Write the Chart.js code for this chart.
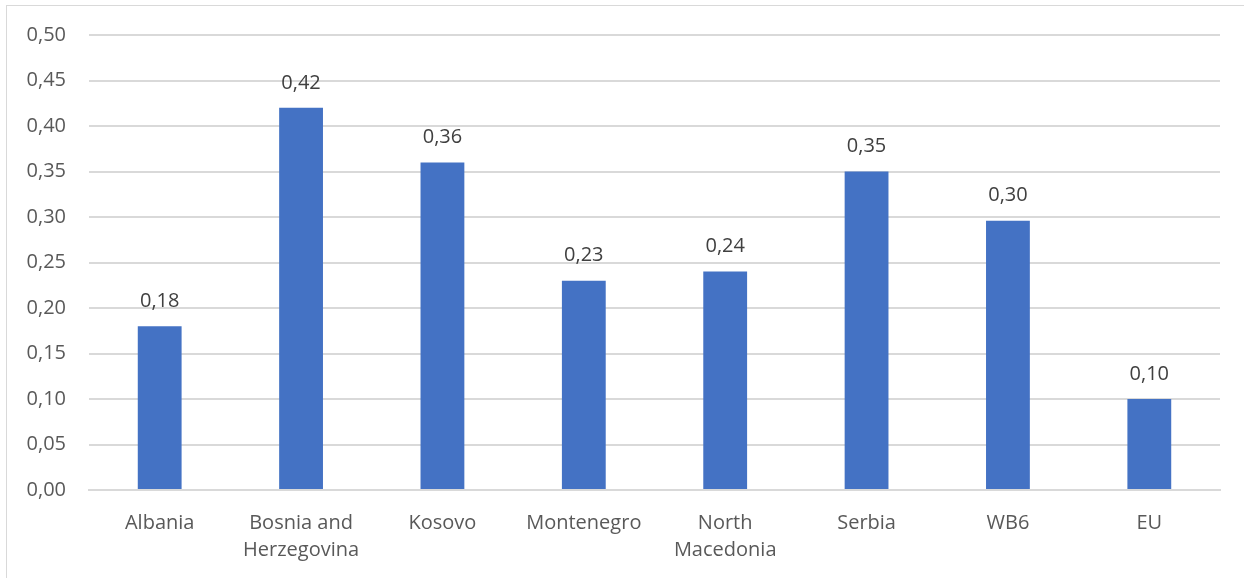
<!DOCTYPE html>
<html>
<head>
<meta charset="utf-8">
<title>Bar chart</title>
<script src="https://cdn.jsdelivr.net/npm/chart.js@4"></script>
<style>
  html, body { margin: 0; padding: 0; background: #fff; overflow: hidden; }
  .frame {
    position: absolute; left: 6px; top: 5px; width: 1250px; height: 600px;
    border: 1px solid #d9d9d9; box-sizing: border-box;
  }
  .wrap { position: absolute; left: 0; top: 0; width: 1244px; height: 578px; }
</style>
</head>
<body>
<div class="frame"></div>
<div class="wrap"><canvas id="barChart"></canvas></div>
<script>
// categories and values
const countries = ['Albania', ['Bosnia and', 'Herzegovina'], 'Kosovo', 'Montenegro', ['North', 'Macedonia'], 'Serbia', 'WB6', 'EU'];
const values = [0.18, 0.42, 0.36, 0.23, 0.24, 0.35, 0.296, 0.10];
const yTicks = [0, 0.05, 0.10, 0.15, 0.20, 0.25, 0.30, 0.35, 0.40, 0.45, 0.50];

const fontFamily = '"Open Sans", sans-serif';
const fmt = v => v.toFixed(2).replace('.', ',');

// value labels above each bar
const barLabels = {
    id: 'barLabels',
    afterDatasetsDraw(chart) {
        const ctx = chart.ctx;
        const meta = chart.getDatasetMeta(0);
        ctx.save();
        ctx.font = '20px ' + fontFamily;
        ctx.fillStyle = '#404040';
        ctx.textAlign = 'center';
        ctx.textBaseline = 'middle';
        meta.data.forEach((bar, i) => {
            ctx.fillText(fmt(values[i]), bar.x, bar.y - 25);
        });
        ctx.restore();
    }
};

const ctx = document.getElementById('barChart').getContext('2d');

new Chart(ctx, {
    type: 'bar',
    data: {
        labels: countries,
        datasets: [{
            data: values,
            backgroundColor: '#4472c4',
            categoryPercentage: 1,
            barPercentage: 0.31
        }]
    },
    options: {
        responsive: true,
        maintainAspectRatio: false,
        animation: false,
        layout: { padding: { top: 31, right: 24, left: 0, bottom: 0 } },
        plugins: {
            legend: { display: false },
            tooltip: { enabled: false }
        },
        scales: {
            x: {
                grid: { display: false },
                border: { color: '#d9d9d9', width: 2 },
                ticks: {
                    color: '#595959',
                    font: { family: fontFamily, size: 20, lineHeight: 1.35 },
                    padding: 12,
                    maxRotation: 0
                },
                afterFit: s => { s.height = 88; }
            },
            y: {
                min: 0,
                max: 0.5,
                afterBuildTicks: s => { s.ticks = yTicks.map(v => ({ value: v })); },
                grid: { color: '#d9d9d9', lineWidth: 2, drawTicks: false },
                border: { display: false },
                ticks: {
                    color: '#595959',
                    font: { family: fontFamily, size: 20 },
                    padding: 23,
                    callback: v => fmt(v)
                },
                afterFit: s => { s.width = 89; }
            }
        }
    },
    plugins: [barLabels]
});
</script>
</body>
</html>
